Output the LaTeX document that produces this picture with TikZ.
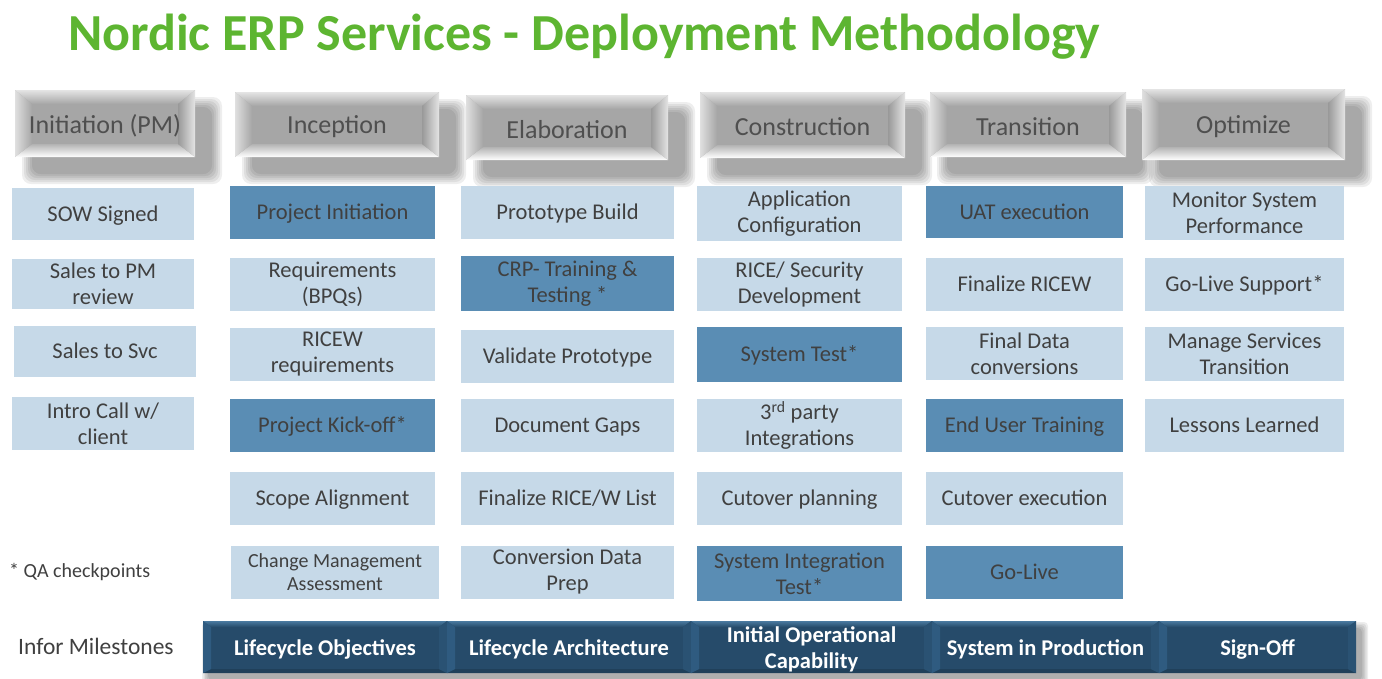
\documentclass[tikz,border=0pt]{standalone}
\usepackage{fontspec}
\setmainfont{Carlito}
\usetikzlibrary{calc,positioning}
\definecolor{titleGreen}{HTML}{5DB531}
\definecolor{cellLight}{HTML}{C6D9E8}
\definecolor{cellDark}{HTML}{5A8DB4}
\definecolor{txtGray}{HTML}{404040}
\definecolor{btnFace}{HTML}{A6A6A6}
\definecolor{btnText}{HTML}{4F4F4F}
\definecolor{barBlue}{HTML}{264B6A}
\definecolor{barLight}{HTML}{4A7AA0}
\definecolor{barSide}{HTML}{2F5B80}
\tikzset{
  cell/.style={rectangle, fill=cellLight, text=txtGray, align=center, inner sep=0pt,
    minimum height=53pt, font=\fontsize{22.5}{26}\selectfont},
  oneline/.style={text height=16pt, text depth=2pt},
  keycell/.style={fill=cellDark},
  colA/.style={cell, minimum width=182pt},
  colB/.style={cell, minimum width=205pt},
  colC/.style={cell, minimum width=213pt},
  colD/.style={cell, minimum width=205pt},
  colE/.style={cell, minimum width=197pt},
  colF/.style={cell, minimum width=199pt},
  phase/.style={text=btnText, inner sep=0pt, font=\fontsize{26}{30}\selectfont},
  mstone/.style={text=white, inner sep=0pt, align=center, font=\bfseries\fontsize{22.5}{26}\selectfont},
  note/.style={anchor=west, text=txtGray, inner sep=0pt}
}
% bevelled grey phase button: name, x1, y1, x2, y2, text
\newcommand{\phasebtn}[6]{%
  \foreach \s in {0,...,5}
    \fill[black, opacity=0.065, rounded corners=9pt]
      ({#2+17-2*\s},{#3+17-2*\s}) rectangle ({#4+17+2*\s},{#5+17+2*\s});
  \fill[btnFace] (#2,#3) rectangle (#4,#5);
  \shade[top color=white!70!btnFace, bottom color=btnFace] (#2,#3) -- (#4,#3) -- ({#4-17},{#3+14}) -- ({#2+17},{#3+14}) -- cycle;
  \shade[top color=btnFace!85!white, bottom color=white] (#2,#5) -- (#4,#5) -- ({#4-17},{#5-13}) -- ({#2+17},{#5-13}) -- cycle;
  \shade[left color=white!65!btnFace, right color=btnFace] (#2,#3) -- ({#2+17},{#3+14}) -- ({#2+17},{#5-13}) -- (#2,#5) -- cycle;
  \shade[left color=btnFace!92!black, right color=white!70!btnFace] (#4,#3) -- ({#4-17},{#3+14}) -- ({#4-17},{#5-13}) -- (#4,#5) -- cycle;
  \node[phase] (#1) at ({(#2+#4)/2},{(#3+#5)/2+2}) {#6};
}
% one segment of the milestone bar: name, x1, x2, text
\newcommand{\milestone}[4]{%
  \fill[barBlue] (#2,621) rectangle (#3,673);
  \shade[top color=barLight, bottom color=barBlue] (#2,621) -- (#3,621) -- ({#3-8},627) -- ({#2+8},627) -- cycle;
  \fill[barBlue!85!black] (#2,673) -- (#3,673) -- ({#3-8},669) -- ({#2+8},669) -- cycle;
  \fill[barSide] (#2,621) -- ({#2+8},627) -- ({#2+8},669) -- (#2,673) -- cycle;
  \fill[barSide!90!black] (#3,621) -- ({#3-8},627) -- ({#3-8},669) -- (#3,673) -- cycle;
  \node[mstone] (#1) at ({(#2+#3)/2},649.5) {#4};
}
\begin{document}
\begin{tikzpicture}[x=1pt,y=-1pt]
  \useasboundingbox (0,0) rectangle (1382,678);
  \fill[white] (0,0) rectangle (1382,678);

  % title
  \node[anchor=base west, inner sep=0pt, text=titleGreen, font=\bfseries\fontsize{52}{56}\selectfont] (title) at (68,50)
    {Nordic ERP Services - Deployment Methodology};

  % phases
  \phasebtn{ini}{15}{90}{195}{157}{Initiation (PM)}
  \phasebtn{inc}{235}{92}{439}{157}{Inception}
  \phasebtn{ela}{466}{95}{668}{160}{Elaboration}
  \phasebtn{con}{700}{92}{905}{158}{Construction}
  \phasebtn{tra}{930}{92}{1126}{157}{Transition}
  \phasebtn{opt}{1142}{89}{1345}{160}{Optimize}

  % initiation (PM)
  \node[colA, oneline, minimum height=52pt] (sow) at (103,214) {SOW Signed};
  \node[colA, minimum height=50pt] (salespm) at (103,284) {Sales to PM\\review};
  \node[colA, oneline, minimum height=51pt] (salessvc) at (105,351.5) {Sales to Svc};
  \node[colA] (intro) at (103,423.5) {Intro Call w/\\client};

  % inception
  \node[colB, oneline, keycell] (projinit) at (332.5,212.5) {Project Initiation};
  \node[colB] (reqs) at (332.5,284.5) {Requirements\\(BPQs)};
  \node[colB] (ricewreq) at (332.5,354.5) {RICEW\\requirements};
  \node[colB, oneline, keycell] (kickoff) at (332.5,425.5) {Project Kick-off*};
  \node[colB, oneline] (scope) at (332.5,498.5) {Scope Alignment};
  \node[colB, minimum width=208pt, font=\fontsize{20}{23}\selectfont] (changemgmt) at (335,572) {Change Management\\Assessment};

  % elaboration
  \node[colC, oneline] (protobuild) at (567.5,212.5) {Prototype Build};
  \node[colC, keycell, minimum height=55pt] (crp) at (567.5,283.5) {CRP- Training \&\\Testing *};
  \node[colC, oneline] (validate) at (567.5,356.5) {Validate Prototype};
  \node[colC, oneline] (gaps) at (567.5,425.5) {Document Gaps};
  \node[colC, oneline] (ricelist) at (567.5,498.5) {Finalize RICE/W List};
  \node[colC] (convprep) at (567.5,572) {Conversion Data\\Prep};

  % construction
  \node[colD, minimum height=55pt] (appconfig) at (799.5,213.5) {Application\\Configuration};
  \node[colD] (ricesec) at (799.5,284.5) {RICE/ Security\\Development};
  \node[colD, oneline, keycell, minimum height=55pt] (systest) at (799.5,354.5) {System Test*};
  \node[colD] (thirdparty) at (799.5,425.5) {3\textsuperscript{rd} party\\Integrations};
  \node[colD, oneline] (cutplan) at (799.5,498.5) {Cutover planning};
  \node[colD, keycell, minimum height=55pt] (sit) at (799.5,573.5) {System Integration\\Test*};

  % transition
  \node[colE, oneline, keycell, minimum height=52pt] (uat) at (1024.5,212) {UAT execution};
  \node[colE, oneline] (ricew) at (1024.5,284.5) {Finalize RICEW};
  \node[colE] (finaldata) at (1024.5,353.5) {Final Data\\conversions};
  \node[colE, oneline, keycell] (training) at (1024.5,425.5) {End User Training};
  \node[colE, oneline] (cutexec) at (1024.5,498.5) {Cutover execution};
  \node[colE, oneline, keycell] (golive) at (1024.5,572.5) {Go-Live};

  % optimize
  \node[colF, minimum height=54pt] (monitor) at (1244.5,213) {Monitor System\\Performance};
  \node[colF, oneline] (golivesup) at (1244.5,284.5) {Go-Live Support*};
  \node[colF, minimum height=54pt] (managesvc) at (1244.5,354) {Manage Services\\Transition};
  \node[colF, oneline] (lessons) at (1244.5,425.5) {Lessons Learned};

  % notes
  \node[note, font=\fontsize{20}{24}\selectfont] (qa) at (9,572.5) {* QA checkpoints};
  \node[note, font=\fontsize{23.5}{27}\selectfont] (infor) at (18,646.5) {Infor Milestones};

  % milestone bar
  \foreach \s in {0,...,4}
    \fill[black, opacity=0.07, rounded corners=4pt]
      ({208-1.5*\s},{628-1.5*\s}) rectangle ({1362+1.5*\s},{680+1.5*\s});
  \milestone{lco}{203}{447}{Lifecycle Objectives}
  \milestone{lca}{447}{691}{Lifecycle Architecture}
  \milestone{ioc}{691}{932}{Initial Operational\\Capability}
  \milestone{sip}{932}{1159}{System in Production}
  \milestone{signoff}{1159}{1356}{Sign-Off}
\end{tikzpicture}
\end{document}
